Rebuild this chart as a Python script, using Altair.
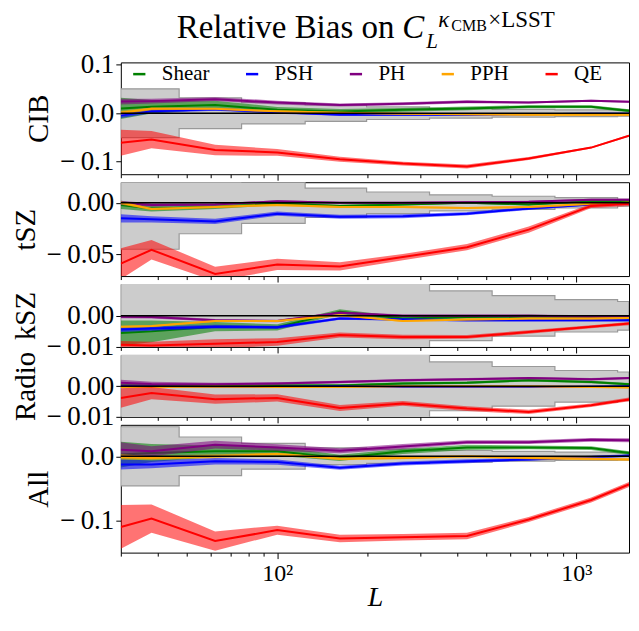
import altair as alt
import pandas as pd

# ---------------- data ----------------
L_POINTS = [30, 38, 62, 100, 162, 263, 431, 693, 1121, 1500]
BIN_EDGES = [30, 47, 76, 124, 199, 323, 523, 848, 1374, 1500]
SERIES = ["Shear", "PSH", "PH", "PPH", "QE"]
COLORS = ["green", "blue", "purple", "orange", "red"]
PANELS = ["CIB", "tSZ", "kSZ", "Radio", "All"]
X_TICKS = [30, 40, 50, 60, 70, 80, 90, 100, 200, 300, 400, 500, 600, 700, 800, 900, 1000]

TITLE_MAIN = "Relative Bias on"
TITLE_C = "C"
TITLE_SUB = "L"
TITLE_KAPPA = "κ"
TITLE_CMB = "CMB"
TITLE_LSST = "×LSST"
X_TITLE = "L"

CIB_BIAS = {
    "Shear": [0.010, 0.0135, 0.017, 0.007, 0.0035, 0.007, 0.010, 0.0135, 0.0135, 0.005],
    "PSH": [-0.004, 0.004, 0.008, 0.002, -0.003, -0.003, -0.003, -0.002, -0.001, -0.001],
    "PH": [0.024, 0.025, 0.029, 0.022, 0.017, 0.0196, 0.0236, 0.022, 0.0256, 0.0236],
    "PPH": [0.001, 0.009, 0.009, 0.004, 0.001, -0.001, -0.002, -0.003, -0.003, -0.003],
    "QE": [-0.061, -0.0545, -0.076, -0.081, -0.095, -0.104, -0.110, -0.0935, -0.071, -0.0465],
}
CIB_ERR = {
    "Shear": [0.022, 0.014, 0.009, 0.006, 0.005, 0.004, 0.004, 0.003, 0.003, 0.003],
    "PSH": [0.006, 0.004, 0.003, 0.003, 0.002, 0.002, 0.002, 0.002, 0.002, 0.002],
    "PH": [0.006, 0.005, 0.004, 0.004, 0.003, 0.003, 0.003, 0.002, 0.002, 0.002],
    "PPH": [0.004, 0.003, 0.002, 0.002, 0.002, 0.002, 0.002, 0.002, 0.002, 0.002],
    "QE": [0.027, 0.018, 0.011, 0.007, 0.005, 0.004, 0.004, 0.003, 0.002, 0.002],
}
CIB_GRAY = [0.0505, 0.032, 0.022, 0.017, 0.013, 0.010, 0.008, 0.007, 0.006]

TSZ_BIAS = {
    "Shear": [-0.002, -0.0055, -0.004, -0.0007, -0.003, -0.0015, 0.0, -0.0015, 0.0015, 0.0015],
    "PSH": [-0.015, -0.016, -0.018, -0.0105, -0.0135, -0.013, -0.0105, -0.0055, -0.0015, -0.001],
    "PH": [0.0, -0.002, -0.0015, 0.0015, 0.0, 0.0, 0.0005, 0.001, 0.003, 0.003],
    "PPH": [0.0, -0.006, -0.004, -0.002, -0.004, -0.004, -0.005, -0.004, -0.001, 0.0],
    "QE": [-0.059, -0.0455, -0.069, -0.0597, -0.0617, -0.0526, -0.043, -0.026, -0.003, -0.001],
}
TSZ_ERR = {
    "Shear": [0.004, 0.003, 0.002, 0.0015, 0.0012, 0.001, 0.001, 0.001, 0.001, 0.001],
    "PSH": [0.004, 0.003, 0.0025, 0.002, 0.002, 0.002, 0.0015, 0.0015, 0.001, 0.001],
    "PH": [0.002, 0.0015, 0.001, 0.001, 0.001, 0.001, 0.001, 0.001, 0.001, 0.001],
    "PPH": [0.0015, 0.001, 0.001, 0.001, 0.001, 0.001, 0.001, 0.001, 0.001, 0.001],
    "QE": [0.015, 0.0095, 0.007, 0.0055, 0.004, 0.003, 0.003, 0.003, 0.002, 0.002],
}
TSZ_GRAY = [0.045, 0.030, 0.020, 0.0142, 0.0105, 0.0078, 0.0064, 0.005, 0.0033]

KSZ_BIAS = {
    "Shear": [-0.0055, -0.005, -0.0035, -0.0037, 0.0013, -0.0009, -0.0004, -0.0002, -0.0004, -0.0006],
    "PSH": [-0.0044, -0.0041, -0.0035, -0.0037, -0.0009, -0.0012, -0.0014, -0.0014, -0.0014, -0.0014],
    "PH": [-0.0003, -0.0004, -0.0014, -0.0017, 0.001, 0.0, 0.0, 0.0, -0.0002, -0.0002],
    "PPH": [-0.0035, -0.0033, -0.0017, -0.0017, 0.0002, -0.0017, -0.0012, -0.0009, -0.0009, -0.0007],
    "QE": [-0.0093, -0.0095, -0.0090, -0.0084, -0.0062, -0.0068, -0.0068, -0.0052, -0.0035, -0.0025],
}
KSZ_ERR = {
    "Shear": [0.004, 0.0035, 0.0015, 0.001, 0.0008, 0.0006, 0.0005, 0.0005, 0.0005, 0.0005],
    "PSH": [0.0008, 0.0007, 0.0006, 0.0005, 0.0004, 0.0004, 0.0004, 0.0004, 0.0004, 0.0004],
    "PH": [0.0005, 0.0005, 0.0004, 0.0004, 0.0004, 0.0004, 0.0004, 0.0004, 0.0004, 0.0004],
    "PPH": [0.0003, 0.0003, 0.0003, 0.0003, 0.0003, 0.0003, 0.0003, 0.0003, 0.0003, 0.0003],
    "QE": [0.0012, 0.0012, 0.0015, 0.0012, 0.0008, 0.0007, 0.0006, 0.0006, 0.0005, 0.0005],
}
KSZ_GRAY = [0.04, 0.03, 0.02, 0.015, 0.0115, 0.008, 0.0065, 0.0052, 0.0046]

RADIO_BIAS = {
    "Shear": [0.0003, 0.0003, 0.0, 0.0003, 0.0003, 0.0009, 0.0012, 0.002, 0.0014, 0.0007],
    "PSH": [0.0, -0.0001, -0.0002, -0.0002, 0.0, -0.0002, -0.0002, -0.0002, -0.0001, 0.0],
    "PH": [0.0012, 0.0008, 0.0007, 0.0009, 0.0014, 0.002, 0.0023, 0.0027, 0.0023, 0.0027],
    "PPH": [-0.0002, -0.0002, -0.0001, -0.0002, -0.0002, 0.0, 0.0, 0.0, -0.0002, -0.0004],
    "QE": [-0.0038, -0.0022, -0.0042, -0.0038, -0.0071, -0.0056, -0.0073, -0.0084, -0.0062, -0.0043],
}
RADIO_ERR = {
    "Shear": [0.0006, 0.0005, 0.0004, 0.0004, 0.0004, 0.0004, 0.0004, 0.0004, 0.0004, 0.0004],
    "PSH": [0.0004, 0.0004, 0.0003, 0.0003, 0.0003, 0.0003, 0.0003, 0.0003, 0.0003, 0.0003],
    "PH": [0.001, 0.0007, 0.0005, 0.0004, 0.0004, 0.0004, 0.0004, 0.0004, 0.0004, 0.0004],
    "PPH": [0.0003, 0.0003, 0.0003, 0.0003, 0.0003, 0.0003, 0.0003, 0.0003, 0.0003, 0.0003],
    "QE": [0.0032, 0.002, 0.0015, 0.0012, 0.001, 0.0008, 0.0008, 0.0007, 0.0006, 0.0006],
}
RADIO_GRAY = [0.04, 0.03, 0.02, 0.015, 0.0115, 0.008, 0.0065, 0.0052, 0.0047]

ALL_BIAS = {
    "Shear": [0.0026, 0.005, 0.0077, 0.008, -0.0025, 0.0077, 0.0138, 0.0138, 0.0128, 0.005],
    "PSH": [-0.0127, -0.0127, -0.0077, -0.009, -0.0178, -0.0112, -0.0077, -0.005, -0.001, 0.001],
    "PH": [0.010, 0.0077, 0.018, 0.0138, 0.0087, 0.0153, 0.022, 0.022, 0.0256, 0.025],
    "PPH": [-0.001, -0.0025, 0.0, 0.0036, -0.004, -0.0025, 0.0, -0.0025, -0.004, -0.005],
    "QE": [-0.110, -0.097, -0.132, -0.115, -0.128, -0.126, -0.124, -0.0985, -0.068, -0.044],
}
ALL_ERR = {
    "Shear": [0.02, 0.014, 0.009, 0.007, 0.005, 0.004, 0.004, 0.003, 0.003, 0.003],
    "PSH": [0.008, 0.006, 0.005, 0.004, 0.003, 0.003, 0.003, 0.002, 0.002, 0.002],
    "PH": [0.012, 0.008, 0.006, 0.005, 0.004, 0.004, 0.003, 0.003, 0.003, 0.003],
    "PPH": [0.004, 0.003, 0.003, 0.002, 0.002, 0.002, 0.002, 0.002, 0.002, 0.002],
    "QE": [0.034, 0.022, 0.015, 0.007, 0.006, 0.005, 0.005, 0.004, 0.004, 0.004],
}
ALL_GRAY = [0.046, 0.030, 0.020, 0.013, 0.011, 0.009, 0.0075, 0.0065, 0.006]

Y_DOMAINS = {
    "CIB": [-0.126, 0.105],
    "tSZ": [-0.071, 0.020],
    "kSZ": [-0.010, 0.0102],
    "Radio": [-0.010, 0.0103],
    "All": [-0.150, 0.049],
}
Y_TICKS = {
    "CIB": [-0.1, 0.0, 0.1],
    "tSZ": [-0.05, 0.0],
    "kSZ": [-0.01, 0.0],
    "Radio": [-0.01, 0.0],
    "All": [-0.1, 0.0],
}
Y_FORMATS = {"CIB": ".1f", "tSZ": ".2f", "kSZ": ".2f", "Radio": ".2f", "All": ".1f"}

# ---------------- layout / style ----------------
FONT = "Liberation Serif"
WIDTH = 509
HEIGHTS = {"CIB": 112, "tSZ": 94, "kSZ": 63, "Radio": 62, "All": 128}


def make_panel(name, bias, err, gray, top=False, bottom=False):
    xscale = alt.Scale(type="log", domain=[30, 1500], nice=False)
    yscale = alt.Scale(domain=Y_DOMAINS[name], nice=False, zero=False)
    fmt = Y_FORMATS[name]
    ylabel = ("datum.value < 0 ? '\u2212\u2009' + format(-datum.value, '%s') "
              ": format(datum.value, '%s')") % (fmt, fmt)
    yaxis = alt.Axis(values=Y_TICKS[name], labelExpr=ylabel, title=name, tickSize=5,
                     labelPadding=2, titlePadding=6, grid=False, domain=False,
                     labelFontSize=27, titleFontSize=29)
    tick_expr = {"expr": "(datum.value == 100 || datum.value == 1000) ? 6 : 3.5"}
    if bottom:
        xaxis = alt.Axis(values=X_TICKS, tickSize=tick_expr, grid=False, domain=False,
                         labelExpr="datum.value == 100 ? '10\u00b2' : (datum.value == 1000 ? '10\u00b3' : '')",
                         labelOverlap=False, labelFontSize=24, labelPadding=3,
                         title=X_TITLE, titleFontStyle="italic", titleFontSize=28, titlePadding=-2)
    else:
        xaxis = alt.Axis(values=X_TICKS, tickSize=tick_expr, grid=False, domain=False,
                         labels=False, title=None)

    X = alt.X("L:Q", scale=xscale, axis=xaxis)

    def Y(field):
        return alt.Y(field, type="quantitative", scale=yscale, axis=yaxis)

    gdf = pd.DataFrame({
        "L": BIN_EDGES,
        "hi": gray + [gray[-1]],
        "lo": [-g for g in gray] + [-gray[-1]],
    })
    layers = [
        alt.Chart(gdf).mark_area(interpolate="step-after", fill="#cccccc", stroke="#999999",
                                 strokeWidth=1.2, clip=True)
        .encode(x=X, y=Y("lo"), y2=alt.Y2("hi:Q"))
    ]

    for s, c in zip(SERIES, COLORS):
        v = bias[s]
        e = err[s]
        df = pd.DataFrame({
            "L": L_POINTS,
            "v": v,
            "lo": [a - b for a, b in zip(v, e)],
            "hi": [a + b for a, b in zip(v, e)],
            "series": [s] * len(v),
        })
        layers.append(
            alt.Chart(df).mark_area(color=c, opacity=0.55, clip=True)
            .encode(x=X, y=Y("lo"), y2=alt.Y2("hi:Q"))
        )
        if top:
            color = alt.Color(
                "series:N",
                scale=alt.Scale(domain=SERIES, range=COLORS),
                legend=alt.Legend(orient="none", legendX=8, legendY=1, direction="horizontal",
                                  columns=5, title=None, symbolType="stroke",
                                  symbolStrokeWidth=2.5, symbolSize=150,
                                  labelFont=FONT, labelFontSize=21, labelColor="black",
                                  labelOffset=12, columnPadding=31, padding=0),
            )
        else:
            color = alt.value(c)
        layers.append(
            alt.Chart(df).mark_line(strokeWidth=2, clip=True)
            .encode(x=X, y=Y("v"), color=color)
        )

    layers.append(
        alt.Chart(pd.DataFrame({"zero": [0.0]})).mark_rule(color="black", strokeWidth=1.5)
        .encode(y=Y("zero"))
    )

    if top:
        def txt(text, x, y, size, italic=False, align="left"):
            kw = dict(align=align, baseline="alphabetic", font=FONT, fontSize=size, color="black")
            if italic:
                kw["fontStyle"] = "italic"
            return (alt.Chart(pd.DataFrame({"t": [text]})).mark_text(**kw)
                    .encode(text="t:N", x=alt.value(x), y=alt.value(y)))
        layers += [
            txt(TITLE_MAIN, 274, -24, 33, align="right"),
            txt(TITLE_C, 282, -24, 33, italic=True),
            txt(TITLE_SUB, 306, -14, 21, italic=True),
            txt(TITLE_KAPPA, 318, -35, 23, italic=True),
            txt(TITLE_CMB, 331, -31, 16),
            txt(TITLE_LSST, 368, -35, 23),
        ]

    return alt.layer(*layers).properties(width=WIDTH, height=HEIGHTS[name])


panels = [
    make_panel("CIB", CIB_BIAS, CIB_ERR, CIB_GRAY, top=True),
    make_panel("tSZ", TSZ_BIAS, TSZ_ERR, TSZ_GRAY),
    make_panel("kSZ", KSZ_BIAS, KSZ_ERR, KSZ_GRAY),
    make_panel("Radio", RADIO_BIAS, RADIO_ERR, RADIO_GRAY),
    make_panel("All", ALL_BIAS, ALL_ERR, ALL_GRAY, bottom=True),
]

chart = (
    alt.vconcat(*panels, spacing=8, bounds="flush")
    .resolve_scale(color="independent")
    .properties(padding={"left": 2, "top": 0, "right": 0, "bottom": 0})
    .configure_view(stroke="black", strokeWidth=1)
    .configure_axis(labelFont=FONT, titleFont=FONT, labelColor="black", titleColor="black",
                    tickColor="black", tickWidth=1, titleFontWeight="normal")
)

chart.save("out.html", embed_options={"renderer": "svg", "actions": False})
